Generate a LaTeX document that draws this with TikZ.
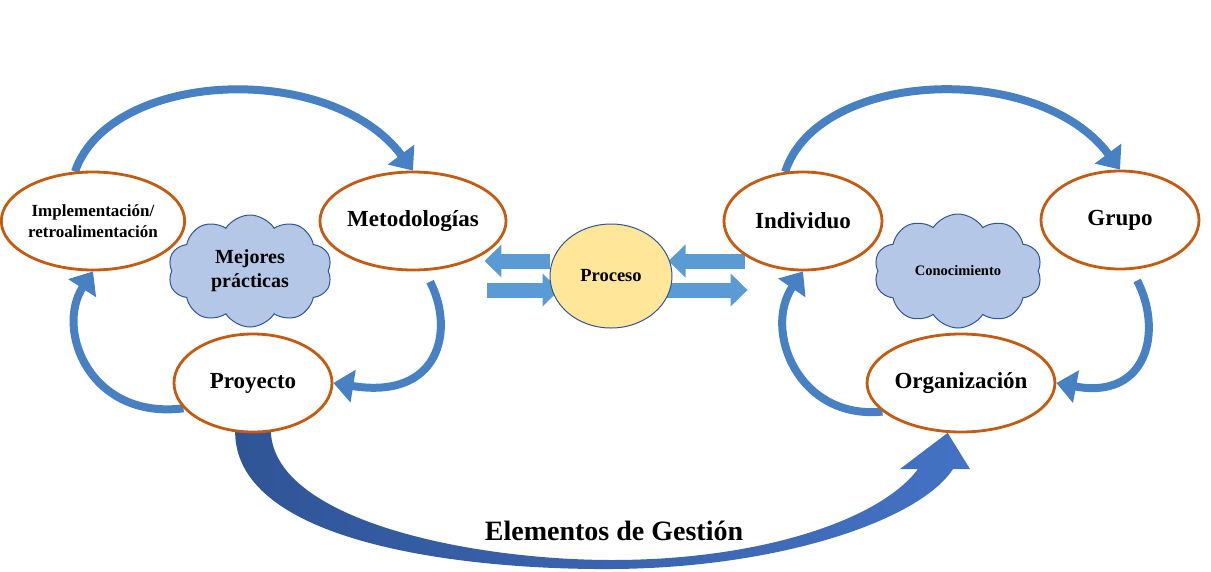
\documentclass[tikz,border=0pt]{standalone}
\usepackage{fontspec}
\setmainfont{Liberation Serif}
\usetikzlibrary{shapes.geometric,shapes.symbols,arrows.meta,backgrounds,calc}
\definecolor{borde}{RGB}{197,90,17}
\definecolor{nubefill}{RGB}{180,199,231}
\definecolor{azulosc}{RGB}{47,85,151}
\definecolor{azul}{RGB}{68,114,196}
\definecolor{azulcl}{RGB}{91,155,213}
\definecolor{bucleazul}{RGB}{72,128,196}
\definecolor{amarillo}{RGB}{255,230,153}
\tikzset{
  etapa/.style={ellipse,draw=borde,line width=2.8pt,fill=white,minimum width=158pt,minimum height=98pt,inner sep=0pt,align=center,font=\bfseries\fontsize{23}{26}\selectfont},
  nube/.style={cloud,cloud puffs=10,cloud puff arc=115,cloud ignores aspect,draw=azulosc,line width=1pt,fill=nubefill,minimum width=164pt,minimum height=112pt,inner sep=0pt,align=center,font=\bfseries\fontsize{20}{24}\selectfont},
  bucle/.style={draw=bucleazul,line width=8pt,-{Triangle[length=20pt,width=32pt]}},
  flecha/.style={draw=azulcl,line width=15pt,-{Triangle[length=17pt,width=32pt]}},
}
\begin{document}
\begin{tikzpicture}[x=1pt,y=-1pt]
\useasboundingbox(0,0)rectangle(1211,571);
\foreach \n/\x/\y/\t in {metod/413/221/Metodologías,proy/253/383/Proyecto,indiv/803/221/Individuo,grupo/1120/220/Grupo,org/961/383/Organización}
  \node[etapa](\n)at(\x,\y){\t};
\node[etapa,font=\bfseries\fontsize{17}{21}\selectfont](impl)at(93,221){Implementación/\\retroalimentación};
\node[nube](mejores)at(250,271){Mejores\\prácticas};
\node[nube,minimum width=168pt,minimum height=114pt,font=\bfseries\fontsize{14.5}{17}\selectfont](conoc)at(958,271){Conocimiento};
\node[ellipse,draw=azulosc,line width=1pt,fill=amarillo,minimum width=122pt,minimum height=104pt,font=\bfseries\fontsize{18.5}{22}\selectfont](proc)at(611,276){Proceso};
\node[font=\bfseries\fontsize{28}{32}\selectfont](gestion)at(614,531){Elementos de Gestión};
\begin{scope}[on background layer]
\foreach \s/\a/\b/\c in {0/impl/metod/proy,708/indiv/grupo/org}{
  \draw[bucle,xshift=\s](\a.110)..controls(110,70)and(330,60)..(\b.north);
  \draw[bucle,xshift=\s,shorten <=12pt](\b.283)..controls(455,330)and(440,400)..(\c.east);
  \draw[bucle,xshift=\s](\c.200)..controls(90,420)and(55,330)..(\a.south);
}
\draw[flecha]($(proc.west)+(0,-15)$)--($(metod.east)+(-23,40)$);
\draw[flecha]($(metod.east)+(-20,69)$)--($(proc.west)+(10,14)$);
\draw[flecha]($(indiv.west)+(22,40)$)--($(proc.east)+(-4,-15)$);
\draw[flecha]($(proc.east)+(-10,14)$)--($(indiv.west)+(25,69)$);
\shade[left color=azulosc,right color=azul](proy.250)..controls(236,545)and(470,570)..(612,569)
  ..controls(780,568)and(920,520)..(953,469)--(970,469)--(org.255)--(900,469)--(918,469)
  ..controls(880,520)and(760,560)..(612,560)..controls(470,560)and(275,520)..(proy.290)--cycle;
\end{scope}
\end{tikzpicture}
\end{document}
